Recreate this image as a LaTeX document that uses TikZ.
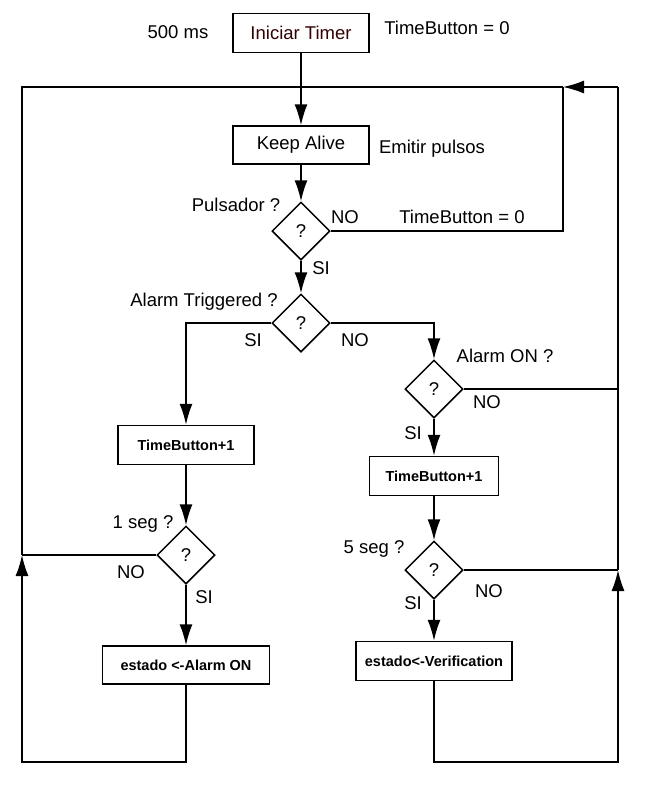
\documentclass[tikz,border=0pt]{standalone}
\usepackage{fontspec}
\setmainfont{Liberation Sans}
\usetikzlibrary{shapes.geometric,arrows.meta}
\definecolor{darkred}{RGB}{50,0,0}
\begin{document}
\begin{tikzpicture}[x=1pt,y=-1pt,
  every node/.style={font=\fontsize{18.5}{20}\selectfont},
  proc/.style={draw,line width=1.5pt,inner sep=0pt,minimum height=39pt},
  bproc/.style={proc,font=\fontsize{14.5}{16}\selectfont\bfseries},
  dec/.style={draw,diamond,line width=1.5pt,inner sep=0pt,minimum width=58pt,minimum height=58pt},
  lbl/.style={inner sep=0pt},
  ln/.style={line width=1.5pt},
  arr/.style={ln,-{Latex[length=21pt,width=13pt]}}]
\useasboundingbox (0,0) rectangle (662,788);
% nodes
\node[proc,minimum width=136pt,text=darkred] (init) at (301,33) {Iniciar Timer};
\node[proc,minimum width=136pt,minimum height=38pt] (keep) at (301,145) {Keep Alive};
\node[dec] (puls) at (301,231) {?};
\node[dec] (trig) at (301,323) {?};
\node[dec] (aon) at (434,389) {?};
\node[bproc,minimum width=136pt] (tbl) at (186,445) {TimeButton+1};
\node[bproc,minimum width=129pt] (tbr) at (434,476) {TimeButton+1};
\node[dec] (s1) at (186,555) {?};
\node[dec] (s5) at (434,570) {?};
\node[bproc,minimum width=167pt,minimum height=38pt] (eal) at (186,665) {estado <-Alarm ON};
\node[bproc,minimum width=156pt] (ever) at (434,661) {estado<-Verification};
% coordinates
\coordinate (jtop) at (301,87);
\coordinate (tl) at (22,87);
\coordinate (tr) at (618,87);
\coordinate (ta) at (563,87);
\coordinate (pr) at (563,231);
\coordinate (ls) at (22,555);
\coordinate (bl) at (22,762);
\coordinate (blb) at (186,762);
\coordinate (rs) at (618,570);
\coordinate (br) at (618,762);
\coordinate (brb) at (434,762);
\coordinate (ra) at (618,389);
\coordinate (tlk) at (186,323);
\coordinate (trk) at (434,323);
% labels
\node[lbl] (l500) at (178,32) {500 ms};
\node[lbl] (ltb0) at (447,28) {TimeButton = 0};
\node[lbl] (lemit) at (432,149) {Emitir pulsos};
\node[lbl] (lpuls) at (236,205) {Pulsador ?};
\node[lbl] (lno1) at (345,217) {NO};
\node[lbl] (ltb1) at (462,217) {TimeButton = 0};
\node[lbl] (lsi1) at (321,268) {SI};
\node[lbl] (ltrig) at (204,302) {Alarm Triggered ?};
\node[lbl] (lsi2) at (253,340) {SI};
\node[lbl] (lno2) at (355,340) {NO};
\node[lbl] (laon) at (505,356) {Alarm ON ?};
\node[lbl] (lno3) at (487,402) {NO};
\node[lbl] (lsi3) at (413,433) {SI};
\node[lbl] (l1s) at (143,524) {1 seg ?};
\node[lbl] (lno4) at (131,572) {NO};
\node[lbl] (lsi4) at (204,597) {SI};
\node[lbl] (l5s) at (374,549) {5 seg ?};
\node[lbl] (lno5) at (489,591) {NO};
\node[lbl] (lsi5) at (413,603) {SI};
% connectors
\draw[arr] (init) -- (keep);
\draw[arr] (keep) -- (puls);
\draw[arr] (puls) -- (trig);
\draw[ln] (puls.east) -- (pr) -- (ta);
\draw[arr] (trig.west) -- (tlk) -- (tbl);
\draw[arr] (trig.east) -- (trk) -- (aon);
\draw[ln] (aon.east) -- (ra);
\draw[arr] (aon) -- (tbr);
\draw[arr] (tbl) -- (s1);
\draw[arr] (tbr) -- (s5);
\draw[arr] (s1) -- (eal);
\draw[arr] (s5) -- (ever);
\draw[ln] (s1.west) -- (ls);
\draw[ln] (s5.east) -- (rs);
\draw[arr] (eal.south) -- (blb) -- (bl) -- (ls);
\draw[ln] (ls) -- (tl) -- (jtop);
\draw[arr] (ever.south) -- (brb) -- (br) -- (rs);
\draw[ln] (rs) -- (tr);
\draw[arr] (tr) -- (ta);
\draw[ln] (ta) -- (jtop);
\end{tikzpicture}
\end{document}
